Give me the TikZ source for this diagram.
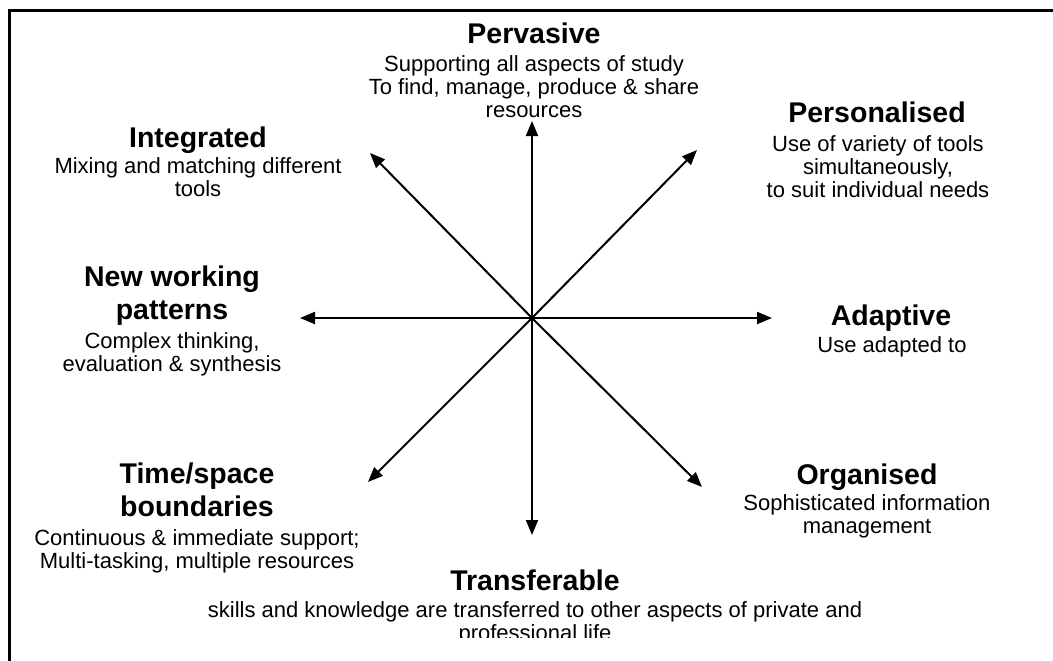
\documentclass[tikz,border=0pt]{standalone}
\usepackage{fontspec}
\setmainfont{Liberation Sans}
\usetikzlibrary{arrows.meta}
\newcommand{\bodyf}{\fontsize{22}{23}\selectfont}
\newcommand{\titlef}{\fontsize{28.5}{33}\selectfont\bfseries}
\newcommand{\stk}[1]{\begin{tabular}[t]{@{}c@{}}#1\end{tabular}}
\tikzset{
  ttl/.style={font=\titlef, anchor=base, inner sep=0pt},
  bdy/.style={font=\bodyf, anchor=base, inner sep=0pt},
  arr/.style={line width=2pt, -{Triangle[length=15pt,width=12pt]}},
  frame/.style={line width=3pt}
}
\begin{document}
\begin{tikzpicture}[x=1pt,y=-1pt]
\useasboundingbox (0,0) rectangle (1053,661);
\clip (0,0) rectangle (1053,661);
\fill[white] (0,0) rectangle (1053,661);
% frame (open to the right and bottom)
\coordinate (fb) at (9,700);
\coordinate (fc) at (9,11);
\coordinate (fr) at (1100,11);
\draw[frame] (fb) -- (fc) -- (fr);
% labels
\node[ttl] (pervT) at (534,44) {Pervasive};
\node[bdy] (pervB) at (534,72) {\stk{Supporting all aspects of study\\To find, manage, produce \& share\\resources}};
\node[ttl] (persT) at (877,122) {Personalised};
\node[bdy] (persB) at (878,151) {\stk{Use of variety of tools\\simultaneously,\\to suit individual needs}};
\node[ttl] (intT) at (198,147) {Integrated};
\node[bdy] (intB) at (198,173) {\stk{Mixing and matching different\\tools}};
\node[ttl] (nwT) at (172,286) {\stk{New working\\patterns}};
\node[bdy] (nwB) at (172,348) {\stk{Complex thinking,\\evaluation \& synthesis}};
\node[ttl] (adT) at (891,325) {Adaptive};
\node[bdy] (adB) at (892,352) {Use adapted to};
\node[ttl] (tsT) at (197,483) {\stk{Time/space\\boundaries}};
\node[bdy] (tsB) at (197,545) {\stk{Continuous \& immediate support;\\Multi-tasking, multiple resources}};
\node[ttl] (orT) at (867,484) {Organised};
\node[bdy] (orB) at (867,510) {\stk{Sophisticated information\\management}};
\node[ttl] (trT) at (535,590) {Transferable};
\begin{scope}
\clip (0,0) rectangle (1053,637);
\node[bdy] (trB) at (535,617) {\stk{skills and knowledge are transferred to other aspects of private and\\professional life}};
\end{scope}
% arrows
\coordinate (c) at (532,318);
\coordinate (tU) at (532,121);
\coordinate (tD) at (532,535);
\coordinate (tL) at (300,318);
\coordinate (tR) at (772,318);
\coordinate (tUL) at (370,153);
\coordinate (tUR) at (697,150);
\coordinate (tLL) at (368,482);
\coordinate (tLR) at (702,487);
\foreach \t in {tU,tD,tL,tR,tUL,tUR,tLL,tLR}{\draw[arr] (c) -- (\t);}
\end{tikzpicture}
\end{document}
